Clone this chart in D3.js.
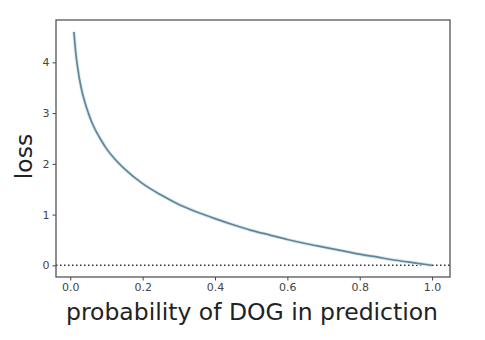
<!DOCTYPE html>
<html>
<head>
<meta charset="utf-8">
<script src="https://cdn.jsdelivr.net/npm/d3@7"></script>
<style>
  html, body { margin: 0; padding: 0; background: #fff; }
  svg { display: block; font-family: "DejaVu Sans", sans-serif; }
</style>
</head>
<body>
<svg id="chart" width="485" height="340"></svg>
<script>
// probability assigned to DOG and the resulting loss
const probability = [0.01, 0.015, 0.02, 0.03, 0.04, 0.05, 0.06, 0.07, 0.08, 0.1, 0.12, 0.15, 0.2, 0.25, 0.3, 0.35, 0.4, 0.45, 0.5, 0.55, 0.6, 0.65, 0.7, 0.75, 0.8, 0.85, 0.9, 0.95, 1.0];
const loss = [4.6, 4.2, 3.91, 3.5, 3.22, 3.0, 2.81, 2.66, 2.53, 2.3, 2.12, 1.9, 1.61, 1.39, 1.2, 1.05, 0.92, 0.8, 0.69, 0.6, 0.51, 0.43, 0.36, 0.29, 0.22, 0.16, 0.1, 0.05, 0.0];
const xTicks = [0.0, 0.2, 0.4, 0.6, 0.8, 1.0];
const yTicks = [0, 1, 2, 3, 4];
const xLabel = "probability of DOG in prediction";
const yLabel = "loss";

const svg = d3.select("#chart");
const plot = { left: 56, right: 450, top: 20, bottom: 277 };

const x = d3.scaleLinear().domain([-0.0395, 1.0495]).range([plot.left, plot.right]);
const y = d3.scaleLinear().domain([-0.23, 4.835]).range([plot.bottom, plot.top]);

// reference line at zero loss
svg.append("line")
  .attr("x1", plot.left).attr("x2", plot.right)
  .attr("y1", y(0)).attr("y2", y(0))
  .attr("stroke", "#333").attr("stroke-width", 1.5)
  .attr("stroke-dasharray", "1.5,2.5");

const pts = probability.map((p, i) => [p, loss[i]]);
const line = d3.line().x(d => x(d[0])).y(d => y(d[1])).curve(d3.curveMonotoneX);

// soft halo then the loss curve
svg.append("path").datum(pts)
  .attr("d", line).attr("fill", "none")
  .attr("stroke", "#d6eaf0").attr("stroke-width", 3.5);
svg.append("path").datum(pts)
  .attr("d", line).attr("fill", "none")
  .attr("stroke", "#648599").attr("stroke-width", 1.7);

// axes
const xAxis = d3.axisBottom(x).tickValues(xTicks).tickFormat(d3.format(".1f")).tickSize(3.5).tickPadding(3);
const yAxis = d3.axisLeft(y).tickValues(yTicks).tickFormat(d3.format("d")).tickSize(3.5).tickPadding(3);

const gx = svg.append("g").attr("transform", `translate(0,${plot.bottom})`).call(xAxis);
const gy = svg.append("g").attr("transform", `translate(${plot.left},0)`).call(yAxis);
[gx, gy].forEach(g => {
  g.select(".domain").remove();
  g.selectAll(".tick line").attr("stroke", "#444").attr("stroke-width", 1);
  g.selectAll(".tick text").attr("fill", "#444").attr("font-size", 11)
    .attr("font-family", "DejaVu Sans, sans-serif");
});

// frame
svg.append("rect")
  .attr("x", plot.left).attr("y", plot.top)
  .attr("width", plot.right - plot.left).attr("height", plot.bottom - plot.top)
  .attr("fill", "none").attr("stroke", "#555").attr("stroke-width", 1.3);

// axis titles
svg.append("text")
  .attr("x", (plot.left + plot.right) / 2 - 1).attr("y", 320)
  .attr("text-anchor", "middle").attr("font-size", 23.5).attr("fill", "#222")
  .text(xLabel);
svg.append("text")
  .attr("transform", `translate(32,${(plot.top + plot.bottom) / 2 + 8}) rotate(-90)`)
  .attr("text-anchor", "middle").attr("font-size", 23.5).attr("fill", "#222")
  .text(yLabel);
</script>
</body>
</html>
